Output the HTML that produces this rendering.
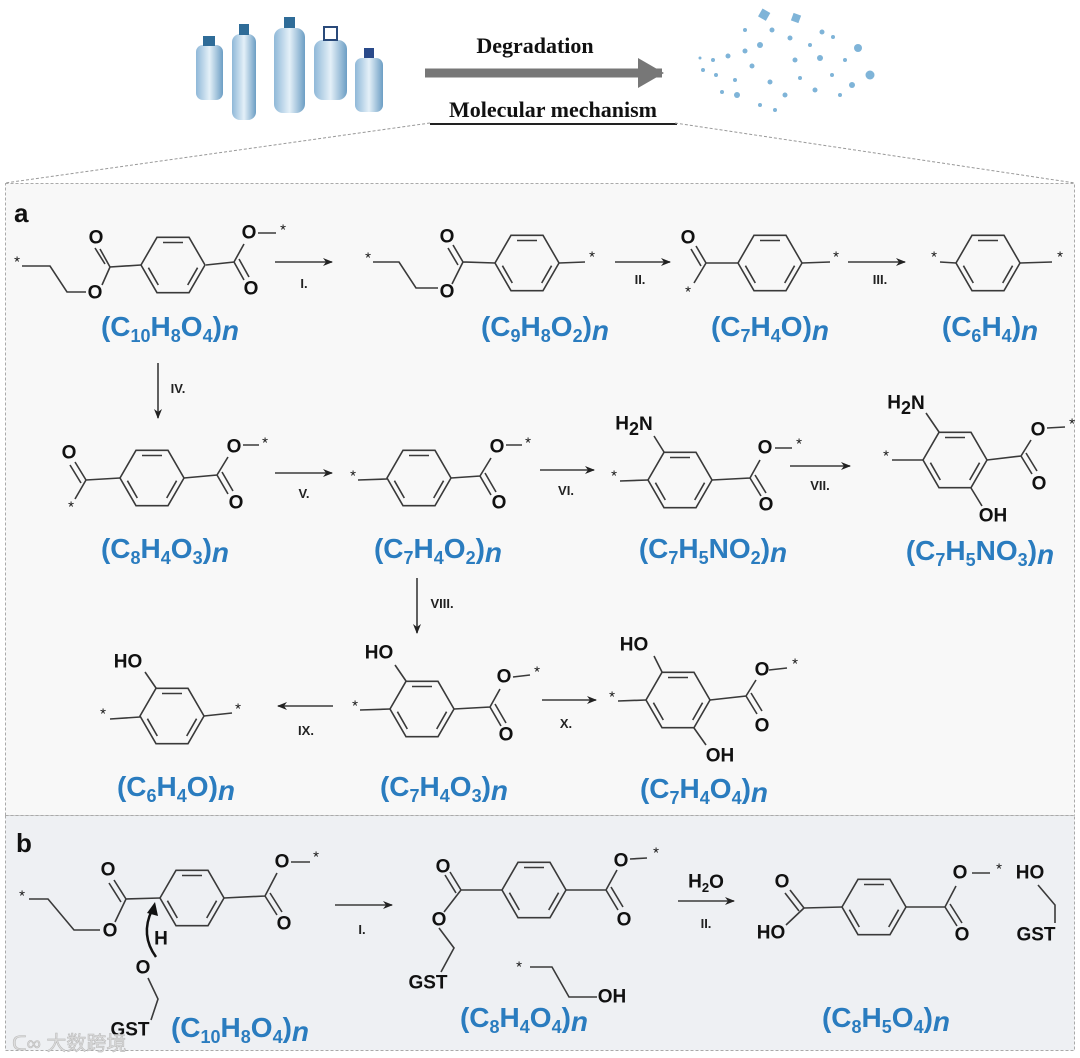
<!DOCTYPE html>
<html><head><meta charset="utf-8"><style>
html,body{margin:0;padding:0;background:#fff;}
svg{display:block;}
.b{stroke:#3a3a3a;stroke-width:1.6;fill:none;}
.t{font-family:"Liberation Sans",sans-serif;font-weight:bold;font-size:19px;fill:#111;text-anchor:middle;dominant-baseline:central;}
.s{font-family:"Liberation Sans",sans-serif;font-size:15px;fill:#111;text-anchor:middle;dominant-baseline:central;}
.r{font-family:"Liberation Sans",sans-serif;font-weight:bold;font-size:13px;fill:#222;text-anchor:middle;}
.f{font-family:"Liberation Sans",sans-serif;font-weight:bold;font-size:28px;fill:#2a7cbf;text-anchor:middle;}
.sub{font-size:18px;}
.ser{font-family:"Liberation Serif",serif;font-weight:bold;font-size:22px;fill:#111;text-anchor:middle;}
</style></head><body>
<svg width="1080" height="1058" viewBox="0 0 1080 1058" xmlns="http://www.w3.org/2000/svg">
<defs>
<symbol id="ring" overflow="visible">
<path class="b" d="M32 0 L16 27.7 L-16 27.7 L-32 0 L-16 -27.7 L16 -27.7 Z"/>
<path class="b" d="M-10 -22.5 L10 -22.5 M-24.6 2.7 L-14.7 20 M24.6 2.7 L14.7 20"/>
</symbol>
<marker id="ah" markerWidth="10" markerHeight="8" refX="9" refY="4" orient="auto" markerUnits="userSpaceOnUse"><path d="M0 0 L10 4 L0 8 L3 4 Z" fill="#222"/></marker>
<marker id="gh" markerWidth="26" markerHeight="30" refX="24" refY="15" orient="auto" markerUnits="userSpaceOnUse"><path d="M0 0 L26 15 L0 30 Z" fill="#777"/></marker>
<linearGradient id="bot" x1="0" x2="1"><stop offset="0" stop-color="#8fb8d8"/><stop offset="0.5" stop-color="#e4f0f8"/><stop offset="1" stop-color="#6c9ec4"/></linearGradient>
</defs>

<g>
<rect x="196" y="45" width="27" height="55" rx="7" fill="url(#bot)"/><rect x="203" y="36" width="12" height="10" fill="#2f6c98"/>
<rect x="232" y="34" width="24" height="86" rx="8" fill="url(#bot)"/><rect x="239" y="24" width="10" height="11" fill="#2f6c98"/>
<rect x="274" y="28" width="31" height="85" rx="9" fill="url(#bot)"/><rect x="284" y="17" width="11" height="11" fill="#2f6c98"/>
<rect x="314" y="40" width="33" height="60" rx="9" fill="url(#bot)"/><rect x="324" y="27" width="13" height="13" fill="none" stroke="#2a4a7a" stroke-width="2"/>
<rect x="355" y="58" width="28" height="54" rx="7" fill="url(#bot)"/><rect x="364" y="48" width="10" height="10" fill="#2a4a8a"/>
</g>
<line x1="425" y1="73" x2="662" y2="73" stroke="#777" stroke-width="9" marker-end="url(#gh)"/>
<text class="ser" x="535" y="53">Degradation</text>
<text class="ser" x="553" y="117">Molecular mechanism</text>
<line x1="430" y1="124" x2="677" y2="124" stroke="#222" stroke-width="2"/>
<g fill="#7fb4d8">
<rect x="760" y="10" width="9" height="9" transform="rotate(30 764 14)"/><rect x="792" y="14" width="8" height="8" transform="rotate(20 796 18)"/>
<circle cx="870" cy="75" r="4.5"/><circle cx="858" cy="48" r="4"/><circle cx="772" cy="30" r="2.5"/><circle cx="790" cy="38" r="2.5"/><circle cx="822" cy="32" r="2.5"/><circle cx="833" cy="37" r="2"/><circle cx="760" cy="45" r="3"/><circle cx="795" cy="60" r="2.5"/><circle cx="810" cy="45" r="2"/><circle cx="745" cy="51" r="2.5"/><circle cx="728" cy="56" r="2.5"/><circle cx="713" cy="60" r="2"/><circle cx="703" cy="70" r="2"/><circle cx="716" cy="75" r="2"/><circle cx="735" cy="80" r="2"/><circle cx="752" cy="66" r="2.5"/><circle cx="770" cy="82" r="2.5"/><circle cx="785" cy="95" r="2.5"/><circle cx="800" cy="78" r="2"/><circle cx="820" cy="58" r="3"/><circle cx="845" cy="60" r="2"/><circle cx="832" cy="75" r="2"/><circle cx="815" cy="90" r="2.5"/><circle cx="852" cy="85" r="3"/><circle cx="737" cy="95" r="3"/><circle cx="760" cy="105" r="2"/><circle cx="775" cy="110" r="2"/><circle cx="722" cy="92" r="2"/><circle cx="745" cy="30" r="2"/><circle cx="700" cy="58" r="1.5"/><circle cx="840" cy="95" r="2"/></g>
<line x1="430" y1="123" x2="5" y2="183" stroke="#999" stroke-width="1" stroke-dasharray="3,2"/>
<line x1="675" y1="123" x2="1075" y2="183" stroke="#999" stroke-width="1" stroke-dasharray="3,2"/>

<rect x="5.5" y="183.5" width="1069" height="632" fill="#f8f8f8" stroke="#aaa" stroke-dasharray="3,2"/>
<rect x="5.5" y="815.5" width="1069" height="235" fill="#eef0f3" stroke="#aaa" stroke-dasharray="3,2"/>
<text x="14" y="222" font-family="Liberation Sans" font-weight="bold" font-size="26" fill="#111">a</text>
<text x="16" y="852" font-family="Liberation Sans" font-weight="bold" font-size="26" fill="#111">b</text>

<use href="#ring" x="173" y="265"/>
<text class="s" x="17" y="262">*</text>
<path class="b" d="M22 266 L50 266 L67 292 L86 292 M102 285 L110 267 L141 265 M110 267 L100 249 M105 264 L95 248 M206 265 L234 262 L244 244 M258 233 L276 233 M234 262 L244 280 M239 259 L249 277"/>
<text class="t" x="95" y="293">O</text><text class="t" x="96" y="238">O</text><text class="t" x="249" y="233">O</text><text class="s" x="283" y="230">*</text><text class="t" x="251" y="289">O</text>
<text class="f" x="170" y="336">(C<tspan class="sub" dy="6">10</tspan><tspan dy="-6">H</tspan><tspan class="sub" dy="6">8</tspan><tspan dy="-6">O</tspan><tspan class="sub" dy="6">4</tspan><tspan dy="-6">)</tspan><tspan font-style="italic" dy="4">n</tspan></text>

<line class="b" x1="275" y1="262" x2="332" y2="262" marker-end="url(#ah)"/><text class="r" x="304" y="288">I.</text>

<use href="#ring" x="527" y="263"/>
<text class="s" x="368" y="258">*</text>
<path class="b" d="M373 262 L399 262 L416 288 L438 288 M452 284 L463 262 L495 263 M463 262 L453 245 M458 265 L448 248 M559 263 L585 262"/>
<text class="t" x="447" y="292">O</text><text class="t" x="447" y="237">O</text><text class="s" x="592" y="257">*</text>
<text class="f" x="545" y="336">(C<tspan class="sub" dy="6">9</tspan><tspan dy="-6">H</tspan><tspan class="sub" dy="6">8</tspan><tspan dy="-6">O</tspan><tspan class="sub" dy="6">2</tspan><tspan dy="-6">)</tspan><tspan font-style="italic" dy="4">n</tspan></text>

<line class="b" x1="615" y1="262" x2="670" y2="262" marker-end="url(#ah)"/><text class="r" x="640" y="284">II.</text>

<use href="#ring" x="770" y="263"/>
<path class="b" d="M706 263 L696 246 M701 266 L691 249 M706 263 L694 283 M706 263 L738 263 M802 263 L830 262"/>
<text class="t" x="688" y="238">O</text><text class="s" x="688" y="292">*</text><text class="s" x="836" y="257">*</text>
<text class="f" x="770" y="336">(C<tspan class="sub" dy="6">7</tspan><tspan dy="-6">H</tspan><tspan class="sub" dy="6">4</tspan><tspan dy="-6">O)</tspan><tspan font-style="italic" dy="4">n</tspan></text>

<line class="b" x1="848" y1="262" x2="905" y2="262" marker-end="url(#ah)"/><text class="r" x="880" y="284">III.</text>

<use href="#ring" x="988" y="263"/>
<path class="b" d="M940 262 L956 263 M1020 263 L1052 262"/>
<text class="s" x="934" y="257">*</text><text class="s" x="1060" y="257">*</text>
<text class="f" x="990" y="336">(C<tspan class="sub" dy="6">6</tspan><tspan dy="-6">H</tspan><tspan class="sub" dy="6">4</tspan><tspan dy="-6">)</tspan><tspan font-style="italic" dy="4">n</tspan></text>

<line class="b" x1="158" y1="363" x2="158" y2="418" marker-end="url(#ah)"/><text class="r" x="178" y="393">IV.</text>

<use href="#ring" x="152" y="478"/>
<path class="b" d="M86 480 L75 462 M81 483 L70 465 M86 480 L75 499 M86 480 L120 478 M184 478 L217 475 L228 457 M243 445 L259 445 M217 475 L228 494 M222 472 L233 491"/>
<text class="t" x="69" y="453">O</text><text class="s" x="71" y="507">*</text><text class="t" x="234" y="447">O</text><text class="s" x="265" y="443">*</text><text class="t" x="236" y="503">O</text>
<text class="f" x="165" y="558">(C<tspan class="sub" dy="6">8</tspan><tspan dy="-6">H</tspan><tspan class="sub" dy="6">4</tspan><tspan dy="-6">O</tspan><tspan class="sub" dy="6">3</tspan><tspan dy="-6">)</tspan><tspan font-style="italic" dy="4">n</tspan></text>

<line class="b" x1="275" y1="473" x2="332" y2="473" marker-end="url(#ah)"/><text class="r" x="304" y="498">V.</text>

<use href="#ring" x="419" y="478"/>
<path class="b" d="M358 480 L387 479 M451 478 L480 476 L491 458 M506 445 L522 445 M480 476 L491 495 M485 473 L496 492"/>
<text class="s" x="353" y="476">*</text><text class="t" x="497" y="447">O</text><text class="s" x="528" y="443">*</text><text class="t" x="499" y="503">O</text>
<text class="f" x="438" y="558">(C<tspan class="sub" dy="6">7</tspan><tspan dy="-6">H</tspan><tspan class="sub" dy="6">4</tspan><tspan dy="-6">O</tspan><tspan class="sub" dy="6">2</tspan><tspan dy="-6">)</tspan><tspan font-style="italic" dy="4">n</tspan></text>

<line class="b" x1="540" y1="470" x2="594" y2="470" marker-end="url(#ah)"/><text class="r" x="566" y="495">VI.</text>

<use href="#ring" x="680" y="480"/>
<path class="b" d="M664 452 L654 436 M620 481 L648 480 M712 480 L750 478 L760 460 M775 448 L792 448 M750 478 L761 496 M755 475 L766 493"/>
<text class="t" x="634" y="424">H<tspan class="sub" font-size="13" dy="5">2</tspan><tspan dy="-5">N</tspan></text>
<text class="s" x="614" y="476">*</text><text class="t" x="765" y="448">O</text><text class="s" x="799" y="444">*</text><text class="t" x="766" y="505">O</text>
<text class="f" x="713" y="558">(C<tspan class="sub" dy="6">7</tspan><tspan dy="-6">H</tspan><tspan class="sub" dy="6">5</tspan><tspan dy="-6">NO</tspan><tspan class="sub" dy="6">2</tspan><tspan dy="-6">)</tspan><tspan font-style="italic" dy="4">n</tspan></text>

<line class="b" x1="790" y1="466" x2="850" y2="466" marker-end="url(#ah)"/><text class="r" x="820" y="490">VII.</text>

<use href="#ring" x="955" y="460"/>
<path class="b" d="M939 432 L926 413 M892 460 L923 460 M987 460 L1021 456 L1031 440 M1047 428 L1065 427 M1021 456 L1032 474 M1026 453 L1037 471 M971 488 L982 506"/>
<text class="t" x="906" y="403">H<tspan class="sub" font-size="13" dy="5">2</tspan><tspan dy="-5">N</tspan></text>
<text class="s" x="886" y="456">*</text><text class="t" x="1038" y="430">O</text><text class="s" x="1072" y="424">*</text><text class="t" x="1039" y="484">O</text><text class="t" x="993" y="516">OH</text>
<text class="f" x="980" y="560">(C<tspan class="sub" dy="6">7</tspan><tspan dy="-6">H</tspan><tspan class="sub" dy="6">5</tspan><tspan dy="-6">NO</tspan><tspan class="sub" dy="6">3</tspan><tspan dy="-6">)</tspan><tspan font-style="italic" dy="4">n</tspan></text>

<line class="b" x1="417" y1="578" x2="417" y2="633" marker-end="url(#ah)"/><text class="r" x="442" y="608">VIII.</text>

<use href="#ring" x="172" y="716"/>
<path class="b" d="M156 688 L145 672 M110 719 L140 717 M204 716 L232 713"/>
<text class="t" x="128" y="662">HO</text><text class="s" x="103" y="714">*</text><text class="s" x="238" y="709">*</text>
<text class="f" x="176" y="796">(C<tspan class="sub" dy="6">6</tspan><tspan dy="-6">H</tspan><tspan class="sub" dy="6">4</tspan><tspan dy="-6">O)</tspan><tspan font-style="italic" dy="4">n</tspan></text>

<line class="b" x1="333" y1="706" x2="278" y2="706" marker-end="url(#ah)"/><text class="r" x="306" y="735">IX.</text>

<use href="#ring" x="422" y="709"/>
<path class="b" d="M406 681 L395 665 M360 710 L390 709 M454 709 L490 707 L500 689 M513 677 L530 675 M490 707 L501 726 M495 704 L506 723"/>
<text class="t" x="379" y="653">HO</text><text class="s" x="355" y="706">*</text><text class="t" x="504" y="677">O</text><text class="s" x="537" y="672">*</text><text class="t" x="506" y="735">O</text>
<text class="f" x="444" y="796">(C<tspan class="sub" dy="6">7</tspan><tspan dy="-6">H</tspan><tspan class="sub" dy="6">4</tspan><tspan dy="-6">O</tspan><tspan class="sub" dy="6">3</tspan><tspan dy="-6">)</tspan><tspan font-style="italic" dy="4">n</tspan></text>

<line class="b" x1="542" y1="700" x2="596" y2="700" marker-end="url(#ah)"/><text class="r" x="566" y="728">X.</text>

<use href="#ring" x="678" y="700"/>
<path class="b" d="M662 672 L654 656 M618 701 L646 700 M710 700 L746 696 L756 680 M769 670 L787 668 M746 696 L757 714 M751 693 L762 711 M694 728 L706 745"/>
<text class="t" x="634" y="645">HO</text><text class="s" x="612" y="697">*</text><text class="t" x="762" y="670">O</text><text class="s" x="795" y="664">*</text><text class="t" x="762" y="726">O</text><text class="t" x="720" y="756">OH</text>
<text class="f" x="704" y="798">(C<tspan class="sub" dy="6">7</tspan><tspan dy="-6">H</tspan><tspan class="sub" dy="6">4</tspan><tspan dy="-6">O</tspan><tspan class="sub" dy="6">4</tspan><tspan dy="-6">)</tspan><tspan font-style="italic" dy="4">n</tspan></text>

<use href="#ring" x="192" y="898"/>
<path class="b" d="M29 899 L48 899 L74 930 L100 930 M115 922 L126 899 L160 898 M126 899 L114 880 M121 902 L109 883 M224 898 L265 896 L277 873 M291 862 L310 862 M265 896 L277 915 M270 893 L282 912 M148 978 L158 999 L151 1020"/>
<path d="M156 957 Q140 935 152 910" fill="none" stroke="#111" stroke-width="2.5"/><path d="M147 913 L155 902 L158 916 Z" fill="#111"/>
<text class="s" x="22" y="896">*</text><text class="t" x="110" y="931">O</text><text class="t" x="108" y="870">O</text><text class="t" x="282" y="862">O</text><text class="s" x="316" y="857">*</text><text class="t" x="284" y="924">O</text>
<text class="t" x="161" y="939">H</text><text class="t" x="143" y="968">O</text><text class="t" x="130" y="1030">GST</text>
<text class="f" x="240" y="1037">(C<tspan class="sub" dy="6">10</tspan><tspan dy="-6">H</tspan><tspan class="sub" dy="6">8</tspan><tspan dy="-6">O</tspan><tspan class="sub" dy="6">4</tspan><tspan dy="-6">)</tspan><tspan font-style="italic" dy="4">n</tspan></text>

<line class="b" x1="335" y1="905" x2="392" y2="905" marker-end="url(#ah)"/><text class="r" x="362" y="934">I.</text>

<use href="#ring" x="534" y="890"/>
<path class="b" d="M461 890 L450 872 M456 893 L445 875 M461 890 L444 912 M502 890 L461 890 M439 928 L454 948 L441 972 M566 890 L606 890 L617 870 M630 859 L647 858 M606 890 L618 910 M611 887 L623 907 M530 967 L552 967 L569 997 L597 997"/>
<text class="t" x="443" y="867">O</text><text class="t" x="439" y="920">O</text><text class="t" x="428" y="983">GST</text><text class="t" x="621" y="861">O</text><text class="s" x="656" y="853">*</text><text class="t" x="624" y="920">O</text>
<text class="s" x="519" y="967">*</text><text class="t" x="612" y="997">OH</text>
<text class="f" x="524" y="1027">(C<tspan class="sub" dy="6">8</tspan><tspan dy="-6">H</tspan><tspan class="sub" dy="6">4</tspan><tspan dy="-6">O</tspan><tspan class="sub" dy="6">4</tspan><tspan dy="-6">)</tspan><tspan font-style="italic" dy="4">n</tspan></text>

<line class="b" x1="678" y1="901" x2="734" y2="901" marker-end="url(#ah)"/>
<text class="t" x="706" y="882">H<tspan font-size="13" dy="5">2</tspan><tspan dy="-5">O</tspan></text><text class="r" x="706" y="928">II.</text>

<use href="#ring" x="874" y="907"/>
<path class="b" d="M804 908 L790 890 M799 911 L785 893 M804 908 L786 925 M804 908 L842 907 M906 907 L945 907 L956 886 M972 873 L990 873 M945 907 L957 926 M950 904 L962 923 M1038 885 L1055 905 L1055 923"/>
<text class="t" x="782" y="882">O</text><text class="t" x="771" y="933">HO</text><text class="t" x="960" y="873">O</text><text class="s" x="999" y="869">*</text><text class="t" x="962" y="935">O</text>
<text class="t" x="1030" y="873">HO</text><text class="t" x="1036" y="935">GST</text>
<text class="f" x="886" y="1027">(C<tspan class="sub" dy="6">8</tspan><tspan dy="-6">H</tspan><tspan class="sub" dy="6">5</tspan><tspan dy="-6">O</tspan><tspan class="sub" dy="6">4</tspan><tspan dy="-6">)</tspan><tspan font-style="italic" dy="4">n</tspan></text>

<text x="12" y="1050" font-family="Liberation Sans,Noto Sans CJK SC,sans-serif" font-size="20" fill="#ddd" stroke="#bbb" stroke-width="0.6">ᑕ∞ 大数跨境</text>
</svg>
</body></html>
